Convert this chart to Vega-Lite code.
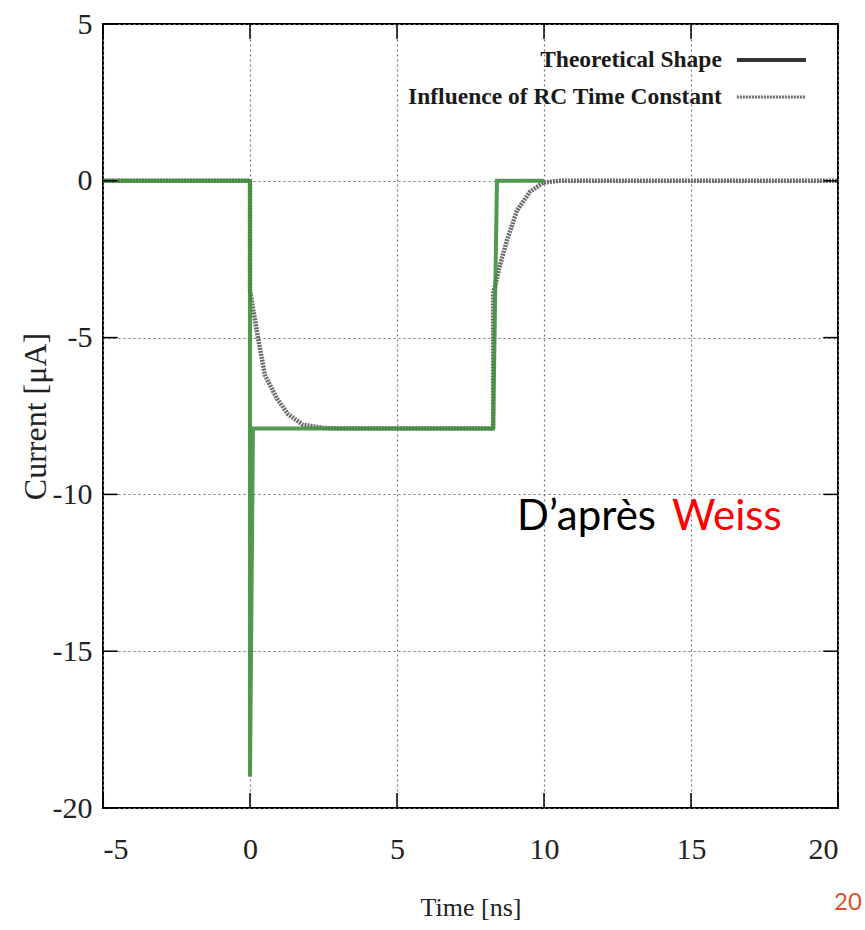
{
  "$schema": "https://vega.github.io/schema/vega-lite/v6.json",
  "autosize": "none",
  "width": 735,
  "height": 784,
  "padding": {"left": 103, "top": 24, "right": 27, "bottom": 122},
  "background": "white",
  "config": {
    "view": {"stroke": "black", "strokeWidth": 2},
    "axis": {
      "labelFont": "Liberation Serif",
      "labelFontSize": 30,
      "labelColor": "#222",
      "labelExpr": "replace(datum.label, '\u2212', '-')",
      "titleFont": "Liberation Serif",
      "titleFontSize": 27,
      "titleFontWeight": "normal",
      "titleColor": "#222",
      "gridColor": "#777",
      "gridDash": [2, 3],
      "gridWidth": 1.2,
      "gridOpacity": 1,
      "domain": false,
      "ticks": false
    }
  },
  "datasets": {
    "theory": [
      {"t": -5, "i": 0, "o": 1},
      {"t": 0, "i": 0, "o": 2},
      {"t": 0, "i": -19, "o": 3},
      {"t": 0.1, "i": -7.9, "o": 4},
      {"t": 8.27, "i": -7.9, "o": 5},
      {"t": 8.4, "i": 0, "o": 6},
      {"t": 10, "i": 0, "o": 7}
    ],
    "rc": [
      {"t": -5, "i": 0, "o": 1},
      {"t": 0, "i": 0, "o": 2},
      {"t": 0, "i": -3.5, "o": 3},
      {"t": 0.27, "i": -5.0, "o": 4},
      {"t": 0.51, "i": -6.2, "o": 5},
      {"t": 0.92, "i": -6.95, "o": 6},
      {"t": 1.3, "i": -7.45, "o": 7},
      {"t": 1.8, "i": -7.78, "o": 8},
      {"t": 2.5, "i": -7.88, "o": 9},
      {"t": 3, "i": -7.9, "o": 10},
      {"t": 8.27, "i": -7.9, "o": 11},
      {"t": 8.27, "i": -3.6, "o": 12},
      {"t": 8.5, "i": -2.7, "o": 13},
      {"t": 8.74, "i": -1.9, "o": 14},
      {"t": 9.08, "i": -0.95, "o": 15},
      {"t": 9.52, "i": -0.35, "o": 16},
      {"t": 9.97, "i": -0.06, "o": 17},
      {"t": 10.5, "i": 0, "o": 18},
      {"t": 20, "i": 0, "o": 19}
    ],
    "xticks": [{"v": -5}, {"v": 0}, {"v": 5}, {"v": 10}, {"v": 15}, {"v": 20}],
    "yticks": [{"v": -20}, {"v": -15}, {"v": -10}, {"v": -5}, {"v": 0}, {"v": 5}],
    "legend": [
      {"label": "Theoretical Shape", "lx": 16.05, "sx": 16.56, "sx2": 18.91, "ly": 3.85, "series": "theory"},
      {"label": "Influence of RC Time Constant", "lx": 16.05, "sx": 16.56, "sx2": 18.91, "ly": 2.67, "series": "rc"}
    ],
    "notes": [
      {"txt": "D\u2019apr\u00e8s", "nx": 9.08, "ny": -11.14, "kind": "black"},
      {"txt": "Weiss", "nx": 14.35, "ny": -11.14, "kind": "red"}
    ],
    "page": [
      {"txt": "20", "nx": 20.34, "ny": -23.03}
    ]
  },
  "layer": [
    {
      "data": {"name": "rc"},
      "mark": {"type": "line", "color": "#6a6a6a", "strokeWidth": 4.5, "strokeDash": [2, 1]},
      "encoding": {
        "x": {"field": "t", "type": "quantitative", "scale": {"domain": [-5, 20], "nice": false},
          "axis": {"values": [-5, 0, 5, 10, 15, 20], "title": "Time [ns]", "titleFontSize": 26, "labelPadding": 26, "titlePadding": 30}},
        "y": {"field": "i", "type": "quantitative", "scale": {"domain": [-20, 5], "nice": false, "zero": false},
          "axis": {"values": [-20, -15, -10, -5, 0, 5], "title": "Current [\u03bcA]", "titleFontSize": 32, "labelPadding": 11, "titlePadding": 0}},
        "order": {"field": "o"}
      }
    },
    {
      "data": {"name": "theory"},
      "mark": {"type": "line", "color": "#3f8f3a", "strokeWidth": 4, "opacity": 0.9},
      "encoding": {
        "x": {"field": "t", "type": "quantitative"},
        "y": {"field": "i", "type": "quantitative"},
        "order": {"field": "o"}
      }
    },
    {
      "data": {"name": "xticks"},
      "mark": {"type": "rule", "color": "black", "strokeWidth": 1.5},
      "encoding": {
        "x": {"field": "v", "type": "quantitative"},
        "y": {"datum": -20},
        "y2": {"datum": -19.52}
      }
    },
    {
      "data": {"name": "xticks"},
      "mark": {"type": "rule", "color": "black", "strokeWidth": 1.5},
      "encoding": {
        "x": {"field": "v", "type": "quantitative"},
        "y": {"datum": 5},
        "y2": {"datum": 4.52}
      }
    },
    {
      "data": {"name": "yticks"},
      "mark": {"type": "rule", "color": "black", "strokeWidth": 1.5},
      "encoding": {
        "y": {"field": "v", "type": "quantitative"},
        "x": {"datum": -5},
        "x2": {"datum": -4.5}
      }
    },
    {
      "data": {"name": "yticks"},
      "mark": {"type": "rule", "color": "black", "strokeWidth": 1.5},
      "encoding": {
        "y": {"field": "v", "type": "quantitative"},
        "x": {"datum": 20},
        "x2": {"datum": 19.5}
      }
    },
    {
      "data": {"name": "legend"},
      "mark": {"type": "text", "align": "right", "baseline": "middle", "font": "Liberation Serif", "fontWeight": "bold", "fontSize": 23.5, "color": "#1a1a1a"},
      "encoding": {
        "x": {"field": "lx", "type": "quantitative"},
        "y": {"field": "ly", "type": "quantitative"},
        "text": {"field": "label"}
      }
    },
    {
      "data": {"name": "legend"},
      "transform": [{"filter": "datum.series === 'theory'"}],
      "mark": {"type": "rule", "color": "#333", "strokeWidth": 4},
      "encoding": {
        "x": {"field": "sx", "type": "quantitative"},
        "x2": {"field": "sx2"},
        "y": {"field": "ly", "type": "quantitative"}
      }
    },
    {
      "data": {"name": "legend"},
      "transform": [{"filter": "datum.series === 'rc'"}],
      "mark": {"type": "rule", "color": "#6a6a6a", "strokeWidth": 3, "strokeDash": [2, 1]},
      "encoding": {
        "x": {"field": "sx", "type": "quantitative"},
        "x2": {"field": "sx2"},
        "y": {"field": "ly", "type": "quantitative"}
      }
    },
    {
      "data": {"name": "notes"},
      "mark": {"type": "text", "align": "left", "baseline": "alphabetic", "font": "Lato", "fontSize": 42},
      "encoding": {
        "x": {"field": "nx", "type": "quantitative"},
        "y": {"field": "ny", "type": "quantitative"},
        "text": {"field": "txt"},
        "color": {"field": "kind", "type": "nominal", "scale": {"domain": ["black", "red"], "range": ["#000000", "#ff0000"]}, "legend": null}
      }
    },
    {
      "data": {"name": "page"},
      "mark": {"type": "text", "align": "center", "baseline": "middle", "font": "Lato", "fontSize": 24, "color": "#e0502a"},
      "encoding": {
        "x": {"field": "nx", "type": "quantitative"},
        "y": {"field": "ny", "type": "quantitative"},
        "text": {"field": "txt"}
      }
    }
  ]
}
